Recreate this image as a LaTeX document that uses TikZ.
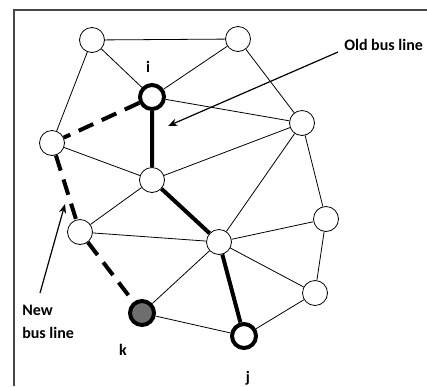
\documentclass[tikz,border=0pt]{standalone}
\usepackage{fontspec}
\setmainfont{Carlito}
\usepackage{tikz}
\usetikzlibrary{arrows.meta}

\definecolor{framegray}{HTML}{474747}
\definecolor{kfill}{HTML}{6E6E6E}

\tikzset{
	bus/.style={circle, draw, fill=white, minimum size=18.75pt, inner sep=0pt, line width=0.6pt},
	endbus/.style={bus, minimum size=18pt, line width=3pt},
	lbl/.style={font=\fontsize{12}{17}\selectfont\bfseries, inner sep=0pt}
}

\begin{document}
\begin{tikzpicture}[x=0.75pt, y=-0.75pt]
			\useasboundingbox (0,0) rectangle (427,386);
			\draw [framegray, line width=1.5pt] (14,386) -- (14,10) -- (427,10);

			% bus stops
			\node [bus] (topL) at (92,40) {};
			\node [bus] (topR) at (238,39) {};
			\node [endbus] (i) at (152,97) {};
			\node [bus] (left) at (52,143) {};
			\node [bus] (mid) at (152,180) {};
			\node [bus] (right) at (302,123) {};
			\node [bus] (lowL) at (80,232) {};
			\node [bus] (hub) at (219,242) {};
			\node [bus] (farR) at (326,219) {};
			\node [bus] (lowR) at (315,293) {};
			\node [endbus, fill=kfill] (k) at (142,313) {};
			\node [endbus] (j) at (244,336) {};

			\node [lbl] (iLbl) at (148,67) {i};
			\node [lbl] (kLbl) at (123,350) {k};
			\node [lbl] (jLbl) at (248,378) {j};

			\begin{scope}[line width=0.6pt]
				\draw (topL) -- (topR);
				\draw (topL) -- (i);
				\draw (topL) -- (left);
				\draw (topR) -- (i);
				\draw (topR) -- (right);
				\draw (i) -- (right);
				\draw (mid) -- (right);
				\draw (right) -- (hub);
				\draw (right) -- (farR);
				\draw (left) -- (mid);
				\draw (mid) -- (lowL);
				\draw (lowL) -- (hub);
				\draw (k) -- (hub);
				\draw (k) -- (j);
				\draw (hub) -- (farR);
				\draw (hub) -- (lowR);
				\draw (farR) -- (lowR);
				\draw (lowR) -- (j);
			\end{scope}

			\begin{scope}[line width=3pt]
				\draw (i) -- (mid) -- (hub) -- (j);
			\end{scope}

			\begin{scope}[line width=3pt, dash pattern=on 12pt off 7pt]
				\draw (i) -- (left);
				\draw (left) -- (lowL);
				\draw (lowL) -- (k);
			\end{scope}

			\node [lbl, anchor=west] (oldLbl) at (344,45) {Old bus line};
			\node [lbl, anchor=west, align=left] (newLbl) at (22,322) {New\\bus line};
			\coordinate (oldTail) at (338,52);
			\coordinate (oldTip) at (168,126);
			\coordinate (newTail) at (40,293);
			\coordinate (newTip) at (65,204);

			\begin{scope}[-{Stealth[length=7pt, width=5.5pt]}, line width=0.9pt]
				\draw (oldTail) -- (oldTip);
				\draw (newTail) -- (newTip);
			\end{scope}
		\end{tikzpicture}
\end{document}
